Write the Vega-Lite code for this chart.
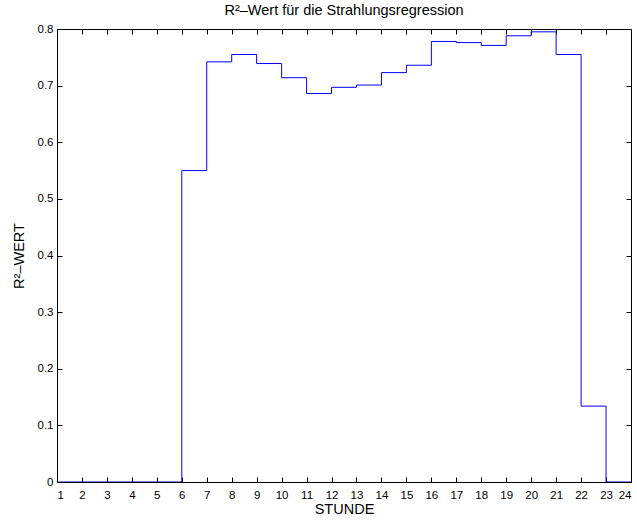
{
  "$schema": "https://vega.github.io/schema/vega-lite/v6.json",
  "autosize": "none",
  "width": 574,
  "height": 453,
  "padding": {"left": 57, "top": 29, "right": 6, "bottom": 39},
  "background": "white",
  "config": {
    "font": "Liberation Sans",
    "view": {"stroke": "black", "strokeWidth": 1},
    "axis": {"grid": false, "domain": false, "tickColor": "black", "labelColor": "black", "titleColor": "black", "labelFont": "Liberation Sans", "titleFont": "Liberation Sans", "labelFontSize": 11.5, "titleFontSize": 14.5, "titleFontWeight": "normal", "tickSize": -5}
  },
  "title": {"text": "R²–Wert für die Strahlungsregression", "fontSize": 14.5, "fontWeight": "normal", "font": "Liberation Sans", "offset": 5, "color": "black"},
  "data": {"values": [
    {"hour": 1, "r2": 0},
    {"hour": 2, "r2": 0},
    {"hour": 3, "r2": 0},
    {"hour": 4, "r2": 0},
    {"hour": 5, "r2": 0},
    {"hour": 6, "r2": 0.55},
    {"hour": 7, "r2": 0.742},
    {"hour": 8, "r2": 0.755},
    {"hour": 9, "r2": 0.739},
    {"hour": 10, "r2": 0.714},
    {"hour": 11, "r2": 0.686},
    {"hour": 12, "r2": 0.697},
    {"hour": 13, "r2": 0.701},
    {"hour": 14, "r2": 0.723},
    {"hour": 15, "r2": 0.736},
    {"hour": 16, "r2": 0.778},
    {"hour": 17, "r2": 0.776},
    {"hour": 18, "r2": 0.771},
    {"hour": 19, "r2": 0.788},
    {"hour": 20, "r2": 0.795},
    {"hour": 21, "r2": 0.755},
    {"hour": 22, "r2": 0.134},
    {"hour": 23, "r2": 0},
    {"hour": 24, "r2": 0}
  ]},
  "layer": [
    {
      "mark": {"type": "line", "interpolate": "step-after", "color": "#0000ff", "strokeWidth": 1, "clip": true},
      "encoding": {
        "x": {"field": "hour", "type": "quantitative", "scale": {"domain": [1, 24], "nice": false, "zero": false},
              "axis": {"orient": "bottom", "values": [1,2,3,4,5,6,7,8,9,10,11,12,13,14,15,16,17,18,19,20,21,22,23,24], "title": "STUNDE", "labelPadding": 12, "titlePadding": 2}},
        "y": {"field": "r2", "type": "quantitative", "scale": {"domain": [0, 0.8], "nice": false},
              "axis": {"orient": "left", "values": [0,0.1,0.2,0.3,0.4,0.5,0.6,0.7,0.8], "format": ".1~f", "title": "R²–WERT", "labelPadding": 9, "titlePadding": 11}}
      }
    },
    {
      "mark": {"type": "line", "opacity": 0},
      "encoding": {
        "x": {"field": "hour", "type": "quantitative", "scale": {"domain": [1, 24], "nice": false, "zero": false},
              "axis": {"orient": "top", "values": [1,2,3,4,5,6,7,8,9,10,11,12,13,14,15,16,17,18,19,20,21,22,23,24], "labels": false, "title": null}},
        "y": {"field": "r2", "type": "quantitative", "scale": {"domain": [0, 0.8], "nice": false},
              "axis": {"orient": "right", "values": [0,0.1,0.2,0.3,0.4,0.5,0.6,0.7,0.8], "labels": false, "title": null}}
      }
    }
  ],
  "resolve": {"axis": {"x": "independent", "y": "independent"}}
}
